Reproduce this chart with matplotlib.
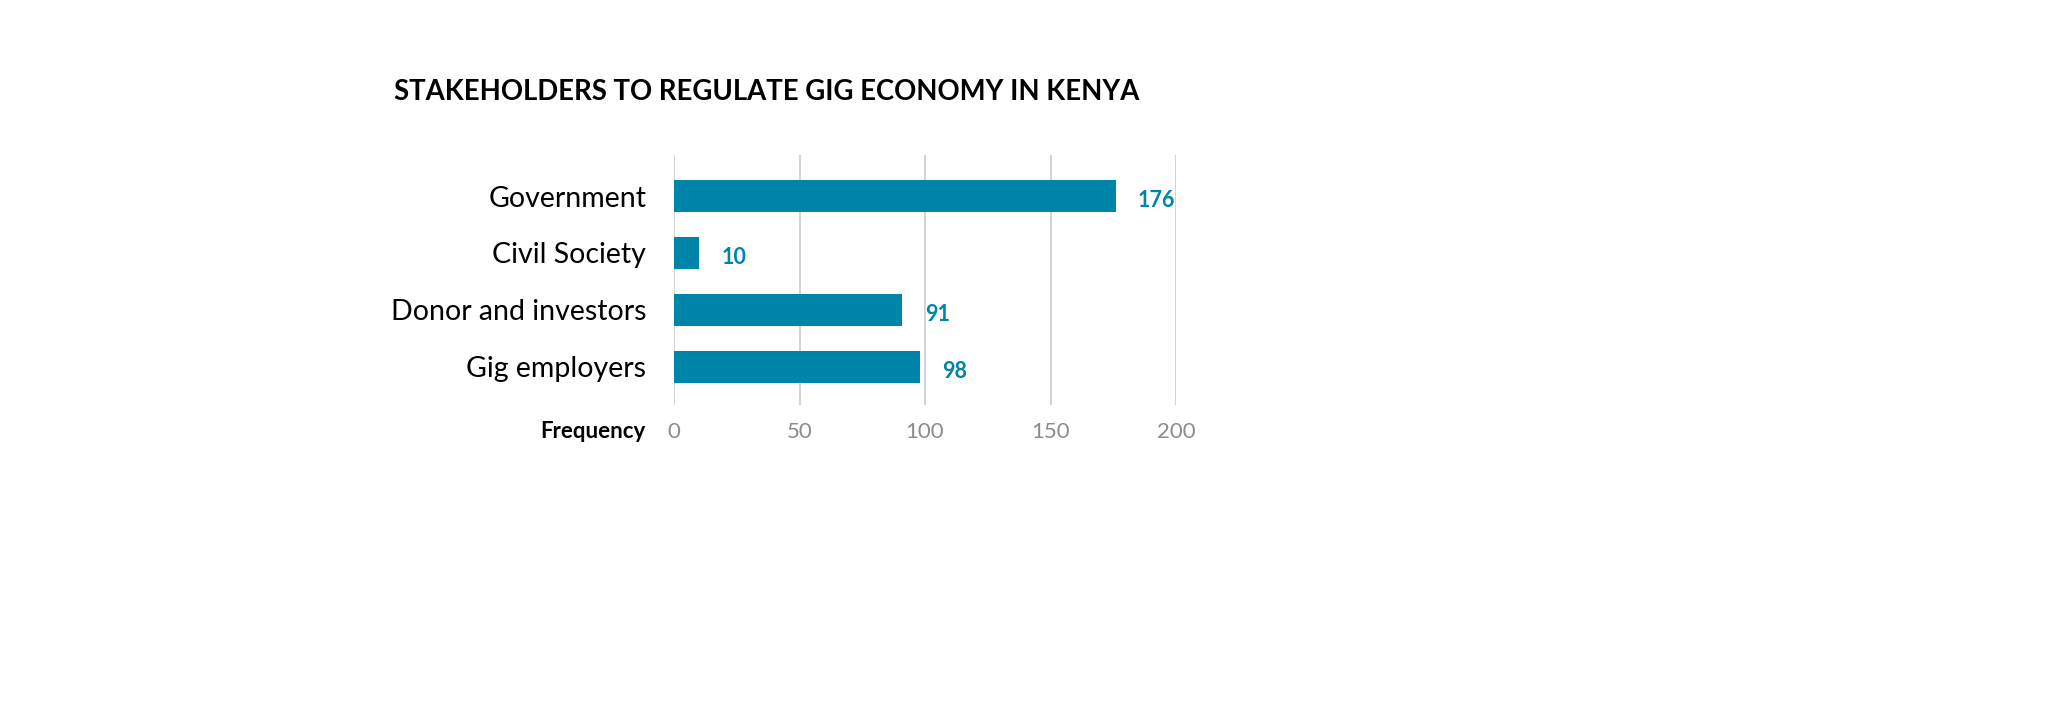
import matplotlib.pyplot as plt

plt.rcParams['font.family'] = ['Lato', 'DejaVu Sans']

categories = ['Government', 'Civil Society', 'Donor and investors', 'Gig employers']
values = [176, 10, 91, 98]
ticks = [0, 50, 100, 150, 200]

bar_color = '#0085AA'

fig = plt.figure(figsize=(20.48, 7.15), dpi=100)
ax = fig.add_axes([674 / 2048, 1 - 405 / 715, 502 / 2048, 250 / 715])

ypos = list(range(len(categories)))
ax.barh(ypos, values, height=0.56, color=bar_color, zorder=3)

# value labels just right of each bar
for y, v in zip(ypos, values):
    ax.annotate(str(v), (v, y), xytext=(16, -3), textcoords='offset points',
                ha='left', va='center', fontsize=15.5, fontweight='bold',
                color=bar_color)

ax.set_xlim(0, 200)
ax.set_ylim(3.67, -0.72)
ax.set_xticks(ticks)
ax.set_xticklabels([str(t) for t in ticks], fontsize=16, color='#8c8c8c')
ax.set_yticks(ypos)
ax.set_yticklabels(categories, fontsize=20.5, color='black')
ax.tick_params(axis='both', length=0)
ax.tick_params(axis='x', pad=12)
ax.tick_params(axis='y', pad=20)
ax.grid(axis='x', color='#cccccc', linewidth=1.2, zorder=0)
for s in ax.spines.values():
    s.set_visible(False)

fig.text(646 / 2048, 1 - 432 / 715, 'Frequency', ha='right', va='center',
         fontsize=16, fontweight='bold', color='black')
fig.text(767 / 2048, 1 - 92 / 715, 'STAKEHOLDERS TO REGULATE GIG ECONOMY IN KENYA',
         ha='center', va='center', fontsize=19.8, fontweight='bold', color='black')

fig.savefig('out.png', dpi=100, facecolor='white')
